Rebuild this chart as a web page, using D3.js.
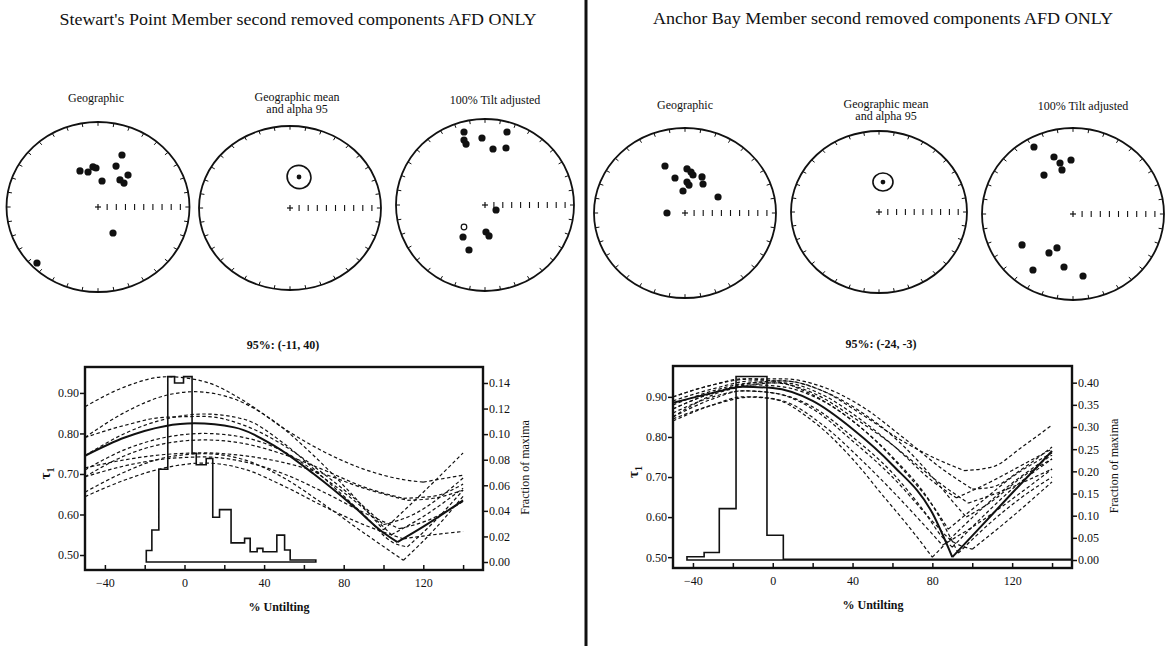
<!DOCTYPE html>
<html><head><meta charset="utf-8">
<script src="https://cdn.jsdelivr.net/npm/d3@7"></script>
<style>
body{margin:0;background:#fff}
svg{display:block}
text{font-family:"Liberation Serif","Times New Roman",serif;fill:#111}
</style>
</head><body>
<svg id="c" width="1168" height="646"></svg>
<script>
// ---------------- DATA ----------------
const panelTitles = ["Stewart's Point Member second removed components AFD ONLY",
                     "Anchor Bay Member second removed components AFD ONLY"];
const netTitles = [["Geographic"], ["Geographic mean", "and alpha 95"], ["100% Tilt adjusted"]];
const ciLabels = ["95%: (-11, 40)", "95%: (-24, -3)"];
const xAxisLabel = "% Untilting";
const fracLabel = "Fraction of maxima";

// stereonet points, normalized projection coordinates (east, north)
const spGeo = [[-0.197,0.424],[-0.109,0.412],[-0.055,0.471],[-0.022,0.459],[0.044,0.306],
  [0.197,0.482],[0.262,0.612],[0.328,0.376],[0.240,0.318],[0.284,0.282],[0.164,-0.306],[-0.667,-0.659]];
const spMean = [[0.099,0.378]];
const spAlpha95 = [0.132,0.14];
const spTilt = [[-0.236,0.849],[-0.236,0.756],[-0.213,0.709],[-0.034,0.779],[0.247,0.849],
  [0.090,0.651],[0.236,0.663],[0.124,-0.058],[-0.247,-0.372],[0.011,-0.314],[0.045,-0.360],[-0.180,-0.523]];
const spTiltUpper = [[-0.236,-0.256]];

const abGeo = [[-0.220,0.553],[-0.110,0.412],[0.022,0.518],[0.066,0.482],[0.088,0.447],[0.022,0.365],
  [0.044,0.329],[0.187,0.424],[0.198,0.341],[-0.022,0.259],[0.363,0.188],[-0.198,0.0]];
const abMean = [[0.045,0.370]];
const abAlpha95 = [0.114,0.111];
const abTilt = [[-0.429,0.779],[-0.209,0.663],[-0.143,0.593],[-0.022,0.628],[-0.121,0.512],[-0.319,0.453],
  [-0.560,-0.360],[-0.176,-0.395],[-0.264,-0.453],[-0.440,-0.651],[-0.099,-0.616],[0.110,-0.721]];

// axes
const untiltTicks = [-40,-20,0,20,40,60,80,100,120,140];
const tauTicks = [0.5,0.6,0.7,0.8,0.9];
const spFracTicks = [0,0.02,0.04,0.06,0.08,0.10,0.12,0.14];
const abFracTicks = [0,0.05,0.10,0.15,0.20,0.25,0.30,0.35,0.40];

// histograms of bootstrap maxima (bin edges in % untilting, fraction values)
const spHistEdges = [-19.2,-16.4,-12.9,-8.4,-5,-0.5,3.8,5.9,10.9,14.2,17.6,23.4,30.2,33,36.5,39.4,46.4,50.3,53.1,66];
const spHistVals  = [0.009,0.025,0.0725,0.145,0.140,0.145,0.085,0.076,0.081,0.035,0.041,0.015,0.0185,0.008,0.0107,0.008,0.021,0.0094,0.0016];
const abHistEdges = [-43,-34.4,-26.8,-18.4,-2.9,5.3,150];
const abHistVals  = [0.0075,0.017,0.116,0.414,0.056,0.0015];

// tau1 vs % untilting curves [untilting, tau1]
const spTauCurves = [
  [[-50,0.866],[-30,0.915],[-9,0.94],[10,0.928],[30,0.88],[50,0.812],[70,0.755],[90,0.712],[110,0.686],[120,0.68],[140,0.697]],
  [[-50,0.79],[-30,0.852],[-10,0.893],[5,0.903],[25,0.885],[45,0.83],[65,0.745],[85,0.645],[100,0.562],[120,0.655],[140,0.752]],
  [[-50,0.745],[-30,0.80],[-10,0.835],[10,0.848],[30,0.835],[50,0.775],[70,0.69],[90,0.6],[105,0.53],[112,0.52],[125,0.58],[140,0.66]],
  [[-50,0.79],[-30,0.82],[-10,0.84],[10,0.842],[30,0.82],[50,0.77],[70,0.70],[90,0.62],[100,0.575],[115,0.6],[140,0.69]],
  [[-50,0.71],[-30,0.76],[-10,0.79],[10,0.80],[30,0.79],[50,0.755],[70,0.69],[90,0.615],[104,0.55],[120,0.595],[140,0.665]],
  [[-50,0.693],[-30,0.745],[-10,0.775],[10,0.784],[30,0.775],[50,0.748],[70,0.71],[90,0.668],[110,0.64],[125,0.645],[140,0.675]],
  [[-50,0.715],[-30,0.735],[-10,0.748],[10,0.752],[30,0.745],[50,0.728],[70,0.70],[90,0.665],[112,0.635],[125,0.64],[140,0.66]],
  [[-50,0.693],[-30,0.72],[-10,0.737],[10,0.742],[30,0.73],[50,0.70],[70,0.655],[90,0.605],[108,0.565],[122,0.585],[140,0.632]],
  [[-50,0.644],[-30,0.685],[-10,0.715],[10,0.727],[30,0.712],[50,0.67],[70,0.62],[90,0.575],[110,0.54],[125,0.55],[140,0.558]],
  [[-50,0.655],[-30,0.705],[-10,0.74],[10,0.75],[30,0.735],[50,0.69],[70,0.625],[90,0.555],[110,0.487],[125,0.56],[140,0.645]]
];
const spTauMean = [[-50,0.745],[-30,0.79],[-10,0.818],[5,0.825],[25,0.815],[45,0.77],[65,0.70],[85,0.62],[100,0.555],[107,0.532],[120,0.57],[140,0.635]];

const abTauCurves = [
  [[-50,0.87],[-30,0.91],[-10,0.935],[5,0.94],[25,0.915],[45,0.855],[65,0.79],[80,0.75],[96,0.716],[110,0.725],[125,0.775],[140,0.83]],
  [[-50,0.85],[-30,0.905],[-10,0.93],[0,0.935],[20,0.91],[40,0.85],[60,0.78],[80,0.69],[92,0.648],[110,0.69],[125,0.73],[140,0.77]],
  [[-50,0.88],[-30,0.915],[-10,0.935],[5,0.935],[25,0.905],[45,0.84],[65,0.76],[85,0.68],[98,0.635],[115,0.665],[140,0.72]],
  [[-50,0.84],[-30,0.88],[-15,0.90],[0,0.895],[20,0.84],[40,0.745],[55,0.655],[70,0.565],[80,0.50],[95,0.575],[115,0.665],[140,0.755]],
  [[-50,0.86],[-30,0.90],[-15,0.915],[0,0.91],[20,0.875],[40,0.80],[60,0.71],[75,0.62],[85,0.55],[90,0.525],[105,0.60],[120,0.67],[140,0.745]],
  [[-50,0.87],[-30,0.91],[-10,0.93],[5,0.925],[25,0.89],[45,0.82],[65,0.72],[80,0.63],[88,0.57],[105,0.64],[120,0.70],[140,0.76]],
  [[-50,0.89],[-30,0.92],[-10,0.94],[5,0.94],[25,0.915],[45,0.86],[65,0.78],[80,0.70],[90,0.64],[97,0.60],[110,0.64],[125,0.70],[140,0.745]],
  [[-50,0.845],[-30,0.88],[-10,0.90],[5,0.89],[25,0.83],[45,0.74],[60,0.665],[75,0.585],[85,0.53],[100,0.575],[120,0.645],[140,0.72]],
  [[-50,0.90],[-30,0.93],[-10,0.945],[5,0.945],[25,0.925],[45,0.875],[65,0.80],[85,0.72],[100,0.67],[110,0.675],[125,0.72],[140,0.775]],
  [[-50,0.90],[-30,0.93],[-15,0.945],[0,0.94],[20,0.905],[40,0.84],[60,0.75],[80,0.63],[93,0.51],[110,0.59],[125,0.65],[140,0.70]],
  [[-50,0.85],[-30,0.895],[-15,0.915],[0,0.91],[20,0.87],[40,0.79],[60,0.70],[80,0.59],[90,0.54],[100,0.52],[115,0.58],[140,0.688]]
];
const abTauMean = [[-50,0.885],[-30,0.91],[-15,0.925],[0,0.922],[20,0.89],[40,0.82],[60,0.73],[80,0.61],[90,0.50],[105,0.58],[120,0.66],[140,0.765]];

// ---------------- DRAWING ----------------
const svg = d3.select("#c");
const INK = "#111";

// divider
svg.append("line").attr("x1",586).attr("x2",586).attr("y1",0).attr("y2",646)
  .attr("stroke",INK).attr("stroke-width",3);

// panel titles
[[298,25,477],[883,24,460]].forEach((p,i)=>{
  svg.append("text").attr("x",p[0]).attr("y",p[1]).attr("text-anchor","middle")
    .attr("font-size",16).attr("textLength",p[2]).attr("lengthAdjust","spacingAndGlyphs")
    .text(panelTitles[i]);
});

function drawNet(cx, cy, rx, ry, dots, opts={}) {
  const g = svg.append("g");
  const sx = d3.scaleLinear().domain([-1,1]).range([cx-rx, cx+rx]);
  const sy = d3.scaleLinear().domain([-1,1]).range([cy+ry, cy-ry]);
  g.append("ellipse").attr("cx",cx).attr("cy",cy).attr("rx",rx).attr("ry",ry)
    .attr("fill","none").attr("stroke",INK).attr("stroke-width",1.8);
  d3.range(0,360,10).forEach(a=>{
    const t=a*Math.PI/180;
    g.append("line").attr("x1",sx(Math.cos(t))).attr("y1",sy(Math.sin(t)))
      .attr("x2",sx(0.955*Math.cos(t))).attr("y2",sy(0.955*Math.sin(t)))
      .attr("stroke",INK).attr("stroke-width",1);
  });
  // centre cross and radial ticks
  g.append("line").attr("x1",cx-3).attr("x2",cx+3).attr("y1",cy).attr("y2",cy).attr("stroke",INK).attr("stroke-width",1.2);
  g.append("line").attr("x1",cx).attr("x2",cx).attr("y1",cy-3).attr("y2",cy+3).attr("stroke",INK).attr("stroke-width",1.2);
  d3.range(1,10).forEach(i=>{
    g.append("line").attr("x1",sx(i/10)).attr("x2",sx(i/10)).attr("y1",cy-3).attr("y2",cy+3)
      .attr("stroke",INK).attr("stroke-width",1.1);
  });
  g.selectAll("circle.d").data(dots).enter().append("circle")
    .attr("cx",d=>sx(d[0])).attr("cy",d=>sy(d[1])).attr("r",opts.r||3.6).attr("fill",INK);
  if (opts.open) g.selectAll("circle.o").data(opts.open).enter().append("circle")
    .attr("cx",d=>sx(d[0])).attr("cy",d=>sy(d[1])).attr("r",2.8).attr("fill","#fff")
    .attr("stroke",INK).attr("stroke-width",1.2);
  if (opts.alpha) {
    const m = dots[0];
    g.append("ellipse").attr("cx",sx(m[0])).attr("cy",sy(m[1]))
      .attr("rx",opts.alpha[0]*rx).attr("ry",opts.alpha[1]*ry)
      .attr("transform",`rotate(${opts.rot||0},${sx(m[0])},${sy(m[1])})`)
      .attr("fill","none").attr("stroke",INK).attr("stroke-width",1.6);
  }
}
function netTitle(x, y, lines) {
  lines.forEach((s,i)=>svg.append("text").attr("x",x).attr("y",y+i*12).attr("text-anchor","middle")
    .attr("font-size",12).text(s));
}

// Stewart's Point nets
drawNet(98,207,91.5,85, spGeo);
drawNet(290,208,91,82, spMean, {r:2.4, alpha:spAlpha95, rot:25});
drawNet(485,205,89,86, spTilt, {open:spTiltUpper});
netTitle(96,102,netTitles[0]); netTitle(297,101,netTitles[1]); netTitle(495,104,netTitles[2]);
// Anchor Bay nets
drawNet(685,213,91,85, abGeo);
drawNet(879,212,88,81, abMean, {r:2.4, alpha:abAlpha95});
drawNet(1073,214,91,86, abTilt);
netTitle(685,109,netTitles[0]); netTitle(886,108,netTitles[1]); netTitle(1083,110,netTitles[2]);

let clipN = 0;
function drawChart(cfg) {
  const g = svg.append("g");
  const x = d3.scaleLinear().domain([-50,150]).range([cfg.l,cfg.r]);
  const y = d3.scaleLinear().domain(cfg.tauDom).range([cfg.b,cfg.t]);
  const yf = d3.scaleLinear().domain(cfg.fracDom).range([cfg.b,cfg.t]);
  const id = "clip"+(clipN++);
  g.append("clipPath").attr("id",id).append("rect").attr("x",cfg.l).attr("y",cfg.t)
    .attr("width",cfg.r-cfg.l).attr("height",cfg.b-cfg.t);
  const inner = g.append("g").attr("clip-path",`url(#${id})`);

  // histogram
  const hp = [[cfg.edges[0],0]];
  cfg.vals.forEach((v,i)=>{ hp.push([cfg.edges[i],v]); hp.push([cfg.edges[i+1],v]); });
  hp.push([cfg.edges[cfg.edges.length-1],0]);
  inner.append("path").attr("d",d3.line().x(d=>x(d[0])).y(d=>yf(d[1]))(hp)+"Z")
    .attr("fill","none").attr("stroke",INK).attr("stroke-width",1.6);

  const line = d3.line().x(d=>x(d[0])).y(d=>y(d[1])).curve(d3.curveMonotoneX);
  const cusp = pts => { const mi = d3.minIndex(pts,d=>d[1]); return line(pts.slice(0,mi+1)) + line(pts.slice(mi)); };
  cfg.curves.forEach(c=>{
    inner.append("path").attr("d",cusp(c)).attr("fill","none").attr("stroke",INK)
      .attr("stroke-width",1.2).attr("stroke-dasharray","3.5,2.5");
  });
  inner.append("path").attr("d",cusp(cfg.mean)).attr("fill","none").attr("stroke",INK).attr("stroke-width",2);

  // axes
  const ax = g.append("g").attr("transform",`translate(0,${cfg.b})`)
    .call(d3.axisBottom(x).tickValues(untiltTicks).tickSize(-5).tickPadding(8)
      .tickFormat(d=> d%40===0 ? d3.format("d")(d) : ""));
  const al = g.append("g").attr("transform",`translate(${cfg.l},0)`)
    .call(d3.axisLeft(y).tickValues(tauTicks).tickSize(5).tickPadding(1).tickFormat(d3.format(".2f")));
  const ar = g.append("g").attr("transform",`translate(${cfg.r},0)`)
    .call(d3.axisRight(yf).tickValues(cfg.fracTicks).tickSize(5).tickPadding(1).tickFormat(d3.format(".2f")));
  [ax,al,ar].forEach(a=>{
    a.select(".domain").remove();
    a.selectAll("line").attr("stroke",INK).attr("stroke-width",1.5);
    a.selectAll("text").attr("font-size",12).attr("font-family","Liberation Serif, serif").attr("fill",INK);
  });
  g.append("rect").attr("x",cfg.l).attr("y",cfg.t).attr("width",cfg.r-cfg.l).attr("height",cfg.b-cfg.t)
    .attr("fill","none").attr("stroke",INK).attr("stroke-width",2.4);

  // labels
  g.append("text").attr("x",cfg.ciX).attr("y",cfg.t-18).attr("text-anchor","middle")
    .attr("font-size",12).attr("font-weight","bold").text(cfg.ci);
  g.append("text").attr("x",cfg.xlX).attr("y",cfg.b+41).attr("text-anchor","middle")
    .attr("font-size",12).attr("font-weight","bold").text(xAxisLabel);
  const ty = (cfg.t+cfg.b)/2+5;
  const tl = g.append("text").attr("transform",`translate(${cfg.l-35},${ty}) rotate(-90)`)
    .attr("text-anchor","middle").attr("font-size",15).attr("font-weight","bold");
  tl.append("tspan").text("τ");
  tl.append("tspan").attr("dy",4).attr("font-size",10).text("1");
  g.append("text").attr("transform",`translate(${cfg.r+46},${(cfg.t+cfg.b)/2-1}) rotate(-90)`)
    .attr("text-anchor","middle").attr("font-size",12).text(fracLabel);
}

drawChart({l:85, r:483, t:367, b:570, tauDom:[0.463,0.964], fracDom:[-0.00625,0.1525],
  fracTicks:spFracTicks, edges:spHistEdges, vals:spHistVals, curves:spTauCurves, mean:spTauMean,
  ci:ciLabels[0], ciX:283, xlX:279});
drawChart({l:673, r:1072, t:366, b:568, tauDom:[0.473,0.977], fracDom:[-0.018,0.4376],
  fracTicks:abFracTicks, edges:abHistEdges, vals:abHistVals, curves:abTauCurves, mean:abTauMean,
  ci:ciLabels[1], ciX:881, xlX:873});
</script>
</body></html>
